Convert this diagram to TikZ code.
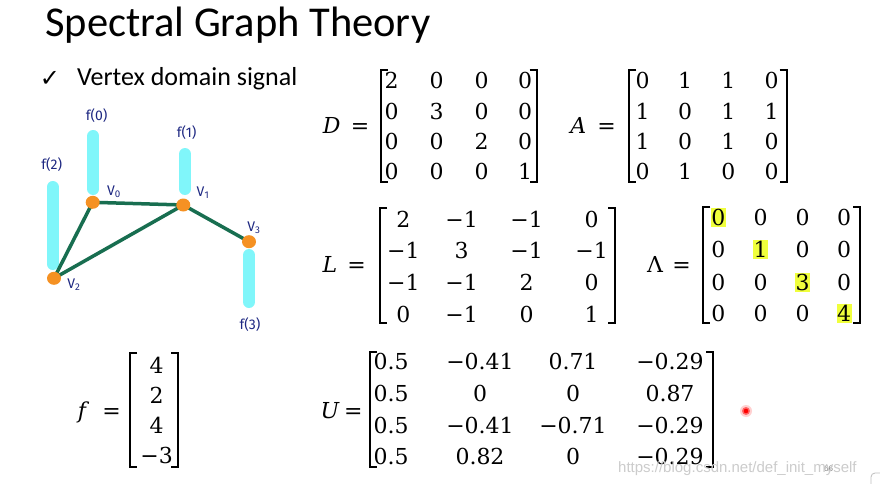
\documentclass[tikz,border=0pt]{standalone}
\usepackage{amsmath}
\usepackage{fontspec}
\setmainfont{Carlito}
\newfontfamily\dejavu{DejaVu Sans}
\newfontfamily\mathser{DejaVu Serif}
\newfontfamily\handfont{Fira Sans}
\newfontfamily\wmfont{Liberation Sans}
\definecolor{barcyan}{RGB}{128,246,250}
\definecolor{edgegreen}{RGB}{24,110,80}
\definecolor{dotorange}{RGB}{245,145,35}
\definecolor{handblue}{RGB}{30,40,130}
\definecolor{hiyellow}{RGB}{240,255,60}
\pgfdeclarelayer{bg}
\pgfsetlayers{bg,main}
\usetikzlibrary{shapes.geometric}
\tikzset{
  ent/.style={anchor=base, inner sep=0pt, font=\mathser\fontsize{22}{26}\selectfont},
  lab/.style={anchor=base, inner sep=0pt, font=\mathser\itshape\fontsize{22}{26}\selectfont},
  brk/.style={line width=1.8pt},
  bar/.style={line width=12pt, line cap=round, color=barcyan},
  edge/.style={line width=3.5pt, color=edgegreen},
  vdot/.style={ellipse, fill=dotorange, minimum width=14pt, minimum height=13pt, inner sep=0pt},
  hand/.style={font=\handfont\fontsize{14}{14}\selectfont, color=handblue, inner sep=0pt},
  hilite/.style={fill=hiyellow, minimum width=15pt, minimum height=19pt, inner sep=0pt}
}
\newcommand{\lbrk}[3]{\draw[brk] (#1+7,#2) -- (#1,#2) -- (#1,#3) -- (#1+7,#3);}
\newcommand{\rbrk}[3]{\draw[brk] (#1-7,#2) -- (#1,#2) -- (#1,#3) -- (#1-7,#3);}
\begin{document}
\begin{tikzpicture}[x=1pt,y=-1pt]
\begin{pgfonlayer}{bg}
\fill[white] (0,0) rectangle (880,484);
\end{pgfonlayer}
\useasboundingbox (0,0) rectangle (880,484);

% title
\node[anchor=base west, inner sep=0pt, font=\fontsize{42.5}{46}\selectfont] (title) at (45,37) {Spectral Graph Theory};
\node[anchor=center, inner sep=0pt, font=\dejavu\fontsize{24}{24}\selectfont] (check) at (50,79) {✓};
\node[anchor=base west, inner sep=0pt, font=\fontsize{26}{28}\selectfont] (sub) at (77,86) {Vertex domain signal};

% graph
\node[vdot] (v0) at (92.7,202.3) {};
\node[vdot] (v1) at (183.3,205) {};
\node[vdot] (v2) at (54,278.3) {};
\node[vdot] (v3) at (249,241.7) {};
\begin{pgfonlayer}{bg}
\draw[bar] (93.3,136) -- (93.3,189);
\draw[bar] (185,154) -- (185,189);
\draw[bar] (52.7,187) -- (52.7,264);
\draw[bar] (249,255) -- (249,302);
\draw[edge] (v0.center) -- (v1.center);
\draw[edge] (v0.center) -- (v2.center);
\draw[edge] (v1.center) -- (v2.center);
\draw[edge] (v1.center) -- (v3.center);
\end{pgfonlayer}
\node[hand] (f0) at (96.7,115.7) {f(0)};
\node[hand] (f1) at (186.7,133) {f(1)};
\node[hand] (f2) at (51.7,165) {f(2)};
\node[hand] (f3) at (250,325) {f(3)};
\node[hand] (l0) at (114,192) {V\textsubscript{0}};
\node[hand] (l1) at (203,193) {V\textsubscript{1}};
\node[hand] (l3) at (254,228) {V\textsubscript{3}};
\node[hand] (l2) at (74,285) {V\textsubscript{2}};

% D matrix
\node[lab] (Dlab) at (331.7,133.5) {D};
\node[ent] (Deq) at (360,133.5) {=};
\foreach \x/\ea/\eb/\ec/\ed [count=\c] in {391.7/2/0/0/0, 436.7/0/3/0/0, 481.7/0/0/2/0, 525/0/0/0/1}{
  \node[ent] (D-1-\c) at (\x,88.7) {\ea};
  \node[ent] (D-2-\c) at (\x,119.7) {\eb};
  \node[ent] (D-3-\c) at (\x,149.7) {\ec};
  \node[ent] (D-4-\c) at (\x,179.7) {\ed};
}
\lbrk{381}{70}{181.7}
\rbrk{536.7}{70}{181.7}

% A matrix
\node[lab] (Alab) at (578.3,133.5) {A};
\node[ent] (Aeq) at (606.7,133.5) {=};
\foreach \x/\ea/\eb/\ec/\ed [count=\c] in {642.7/0/1/1/0, 685/1/0/0/1, 728.3/1/1/1/0, 771.7/0/1/0/0}{
  \node[ent] (A-1-\c) at (\x,88.7) {\ea};
  \node[ent] (A-2-\c) at (\x,119.7) {\eb};
  \node[ent] (A-3-\c) at (\x,149.7) {\ec};
  \node[ent] (A-4-\c) at (\x,179.7) {\ed};
}
\lbrk{629.3}{70}{181.7}
\rbrk{786.7}{70}{181.7}

% L matrix
\node[lab] (Llab) at (330,272) {L};
\node[ent] (Leq) at (356.7,272) {=};
\foreach \x/\ea/\eb/\ec/\ed [count=\c] in {403.3/2/−1/−1/0, 461.7/−1/3/−1/−1, 526.7/−1/−1/2/0, 591.7/0/−1/0/1}{
  \node[ent] (L-1-\c) at (\x,227) {\ea};
  \node[ent] (L-2-\c) at (\x,258.8) {\eb};
  \node[ent] (L-3-\c) at (\x,290.6) {\ec};
  \node[ent] (L-4-\c) at (\x,322.4) {\ed};
}
\lbrk{380}{208}{323}
\rbrk{615}{208}{323}

% Lambda matrix
\node[hilite] (h1) at (718.3,217.5) {};
\node[hilite] (h2) at (760.7,249.5) {};
\node[hilite] (h3) at (802.7,282) {};
\node[hilite] (h4) at (844,313) {};
\node[ent] (Glab) at (655,272) {Λ};
\node[ent] (Geq) at (681.7,272) {=};
\foreach \x/\ea/\eb/\ec/\ed [count=\c] in {718.3/0/0/0/0, 760.7/0/1/0/0, 802.7/0/0/3/0, 844/0/0/0/4}{
  \node[ent] (G-1-\c) at (\x,225.5) {\ea};
  \node[ent] (G-2-\c) at (\x,257.5) {\eb};
  \node[ent] (G-3-\c) at (\x,290) {\ec};
  \node[ent] (G-4-\c) at (\x,321) {\ed};
}
\lbrk{703.3}{207}{323}
\rbrk{860}{207}{323}

% f vector
\node[lab] (flab) at (82,418) {f};
\node[ent] (feq) at (111.7,418) {=};
\node[ent] (f-1) at (156.7,373) {4};
\node[ent] (f-2) at (156.7,403) {2};
\node[ent] (f-3) at (156.7,433) {4};
\node[ent] (f-4) at (156.7,463) {−3};
\lbrk{130}{352.7}{466.7}
\rbrk{178.3}{352.7}{466.7}

% U matrix
\node[lab] (Ulab) at (330,418) {U};
\node[ent] (Ueq) at (353.3,418) {=};
\foreach \x/\ea/\eb/\ec/\ed [count=\c] in {391/0.5/0.5/0.5/0.5, 480/−0.41/0/−0.41/0.82, 573/0.71/0/−0.71/0, 670/−0.29/0.87/−0.29/−0.29}{
  \node[ent] (U-1-\c) at (\x,369.7) {\ea};
  \node[ent] (U-2-\c) at (\x,401.3) {\eb};
  \node[ent] (U-3-\c) at (\x,433) {\ec};
  \node[ent] (U-4-\c) at (\x,464.7) {\ed};
}
\lbrk{370}{351.7}{466.7}
\rbrk{713.3}{351.7}{466.7}

% laser pointer dot
\fill[red!18] (746,411) circle (6);
\fill[red!60] (746,411) circle (4);
\fill[red] (746,411) circle (2.3);

% watermark and page number
\node[anchor=base west, inner sep=0pt, font=\wmfont\fontsize{8}{8}\selectfont, color=black!50] (pg) at (824,471) {66};
\node[anchor=base west, inner sep=0pt, font=\wmfont\fontsize{15}{15}\selectfont, color=black!20] (wm) at (618,472) {https://blog.csdn.net/def\_init\_myself};
\draw[black!25, line width=0.8pt, rounded corners=4] (871,490) -- (871,473) -- (890,473);
\end{tikzpicture}
\end{document}
